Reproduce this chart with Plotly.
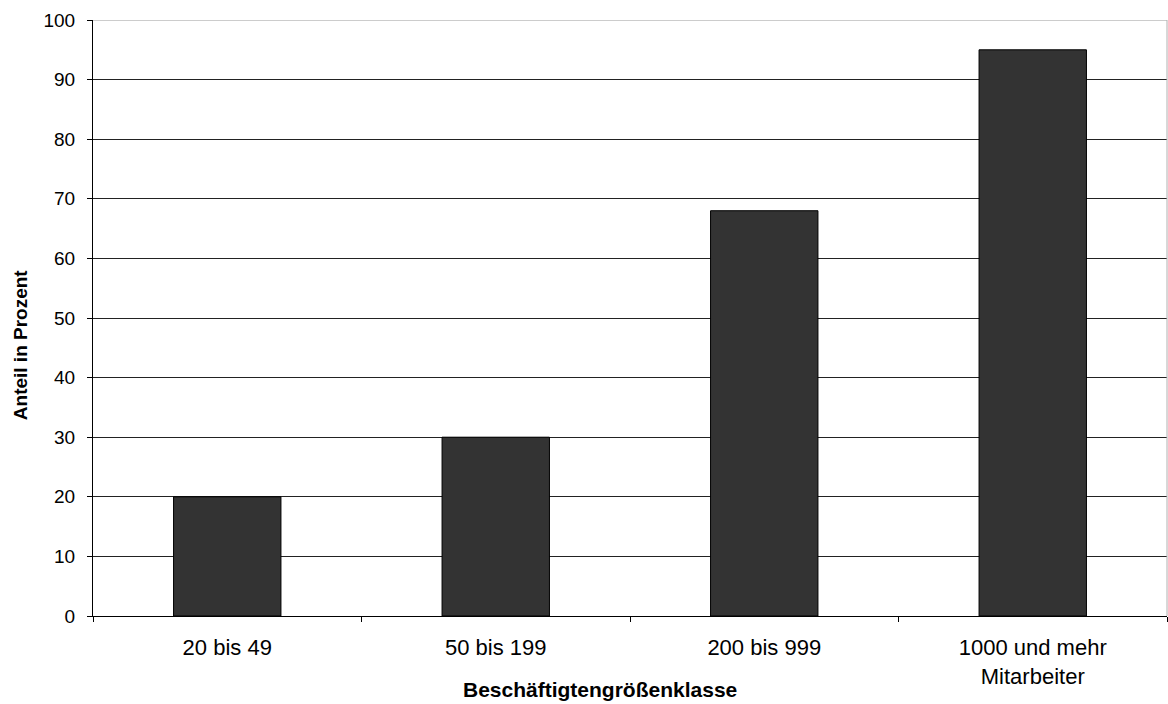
import plotly.graph_objects as go

# Anteil der Betriebe je Beschäftigtengrößenklasse (in Prozent)
categories = ["20 bis 49", "50 bis 199", "200 bis 999", "1000 und mehr<br>Mitarbeiter"]
shares = [20, 30, 68, 95]
y_ticks = [0, 10, 20, 30, 40, 50, 60, 70, 80, 90, 100]

FONT = "Liberation Sans, Arial, sans-serif"

fig = go.Figure(
    go.Bar(
        x=categories,
        y=shares,
        marker=dict(color="#333333", line=dict(color="#000000", width=1)),
        hoverinfo="x+y",
    )
)

fig.update_layout(
    width=1168,
    height=704,
    margin=dict(l=93, r=1, t=20, b=88),
    paper_bgcolor="white",
    plot_bgcolor="white",
    bargap=0.6,
    showlegend=False,
    font=dict(family=FONT, color="#000000"),
    shapes=[
        # light frame at the top and right edge of the plot area
        dict(type="line", xref="paper", yref="y", x0=0, x1=1, y0=100, y1=100,
             line=dict(color="#9a9a9a", width=1), layer="above"),
        dict(type="line", xref="paper", yref="paper", x0=1, x1=1, y0=0, y1=1,
             line=dict(color="#b0b0b0", width=1), layer="above"),
    ],
    annotations=[
        # axis titles
        dict(text="<b>Beschäftigtengrößenklasse</b>", xref="paper", yref="paper",
             x=0.472, y=-0.124, xanchor="center", yanchor="middle",
             showarrow=False, font=dict(size=21, family=FONT)),
        dict(text="<b>Anteil in Prozent</b>", xref="paper", yref="paper",
             x=-0.068, y=0.456, xanchor="center", yanchor="middle",
             textangle=-90, showarrow=False, font=dict(size=19, family=FONT)),
    ],
)

fig.update_xaxes(
    type="category",
    tickson="boundaries",
    ticks="outside",
    ticklen=5,
    tickcolor="#000000",
    ticklabelstandoff=12,
    showline=True,
    linecolor="#000000",
    linewidth=1,
    showgrid=False,
    tickfont=dict(size=22, family=FONT),
)

fig.update_yaxes(
    range=[0, 100],
    tickvals=y_ticks,
    ticks="outside",
    ticklen=5,
    tickcolor="#000000",
    ticklabelstandoff=8,
    showline=True,
    linecolor="#000000",
    linewidth=1,
    showgrid=True,
    gridcolor="#222222",
    gridwidth=1,
    zeroline=False,
    tickfont=dict(size=19, family=FONT),
)

fig.write_html("out.html")
